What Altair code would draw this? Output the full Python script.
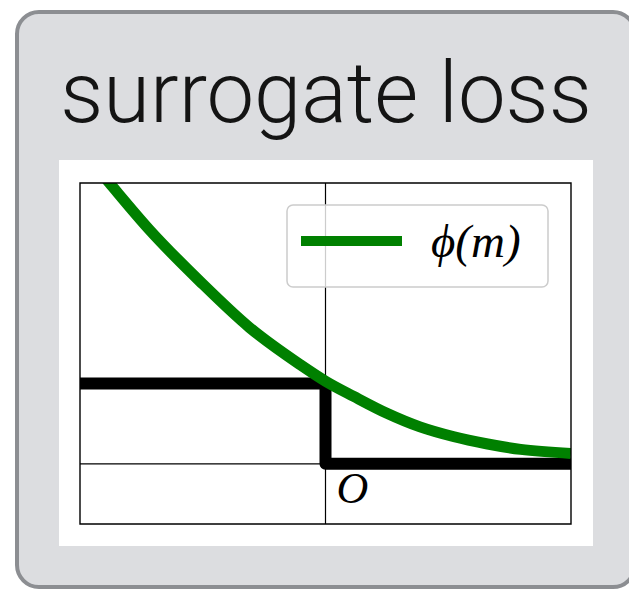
import altair as alt
import pandas as pd

# margin m and surrogate loss phi(m)
margin = [-2.0, -1.76, -1.43, -1.02, -0.62, -0.21, 0.0, 0.23, 0.5, 0.77, 1.04, 1.31, 1.59, 2.0]
phi = [3.94, 3.50, 2.91, 2.27, 1.70, 1.24, 1.03, 0.84, 0.63, 0.46, 0.34, 0.25, 0.18, 0.13]

# 0-1 loss drawn as a step
step_m = [-2.0, 0.0, 0.0, 2.0]
step_loss = [1.0, 1.0, 0.0, 0.0]

x_domain = [-2.0, 2.0]
y_domain = [-0.75, 3.5]

W, H = 491, 341  # plot area

curve = pd.DataFrame({"m": margin, "phi": phi})
step = pd.DataFrame({"m": step_m, "loss": step_loss, "order": list(range(len(step_m)))})
one = pd.DataFrame({"k": [0]})

xs = alt.Scale(domain=x_domain, nice=False, zero=False)
ys = alt.Scale(domain=y_domain, nice=False, zero=False)

# card, panel and heading
card = alt.Chart(one).mark_rect(
    fill="#dcdde0", stroke="#8c8e92", strokeWidth=4, cornerRadius=22
).encode(x=alt.value(-63), x2=alt.value(555), y=alt.value(-171), y2=alt.value(404))

panel = alt.Chart(one).mark_rect(fill="white").encode(
    x=alt.value(-21), x2=alt.value(513), y=alt.value(-23), y2=alt.value(363)
)

heading = alt.Chart(one).mark_text(
    text="surrogate loss", font="Roboto", fontWeight=300, fontSize=85,
    color="#141414", align="center", baseline="alphabetic"
).encode(x=alt.value(246), y=alt.value(-61))

# axes through the origin
vline = alt.Chart(pd.DataFrame({"m": [0.0]})).mark_rule(color="black", strokeWidth=1.2).encode(
    x=alt.X("m:Q", scale=xs, axis=None)
)
hline = alt.Chart(pd.DataFrame({"v": [0.0]})).mark_rule(color="black", strokeWidth=1.2).encode(
    y=alt.Y("v:Q", scale=ys, axis=None)
)

step_line = alt.Chart(step).mark_line(
    color="black", strokeWidth=12, strokeJoin="round", clip=True
).encode(
    x=alt.X("m:Q", scale=xs, axis=None),
    y=alt.Y("loss:Q", scale=ys, axis=None),
    order="order:O",
)

phi_line = alt.Chart(curve).mark_line(
    color="#008000", strokeWidth=11, interpolate="monotone", clip=True
).encode(
    x=alt.X("m:Q", scale=xs, axis=None),
    y=alt.Y("phi:Q", scale=ys, axis=None),
)

origin = alt.Chart(pd.DataFrame({"m": [0.0], "v": [0.0]})).mark_text(
    text="O", font="Liberation Serif", fontStyle="italic", fontSize=44,
    align="center", baseline="middle", dx=27, dy=26, color="black"
).encode(
    x=alt.X("m:Q", scale=xs, axis=None),
    y=alt.Y("v:Q", scale=ys, axis=None),
)

frame = alt.Chart(one).mark_rect(fill=None, stroke="black", strokeWidth=1.4).encode(
    x=alt.value(0), x2=alt.value(W), y=alt.value(0), y2=alt.value(H)
)

# legend box
leg_box = alt.Chart(one).mark_rect(
    fill="white", fillOpacity=0.8, stroke="#cccccc", strokeWidth=1.5, cornerRadius=6
).encode(x=alt.value(207), x2=alt.value(468), y=alt.value(22), y2=alt.value(104))

leg_line = alt.Chart(one).mark_rule(color="#008000", strokeWidth=10).encode(
    x=alt.value(221), x2=alt.value(322), y=alt.value(58)
)

leg_text = alt.Chart(one).mark_text(
    text="ϕ(m)", font="Liberation Serif", fontStyle="italic", fontSize=47,
    align="left", baseline="alphabetic", color="black"
).encode(x=alt.value(351), y=alt.value(74))

chart = alt.layer(
    card, panel, heading, vline, hline, step_line, phi_line, origin, frame,
    leg_box, leg_line, leg_text
).properties(
    width=W, height=H,
    autosize=alt.AutoSizeParams(type="none"),
    padding={"left": 80, "top": 183, "right": 58, "bottom": 65},
    background="white",
).configure_view(stroke=None)

chart.save("out.html", embed_options={"renderer": "svg", "actions": False})
